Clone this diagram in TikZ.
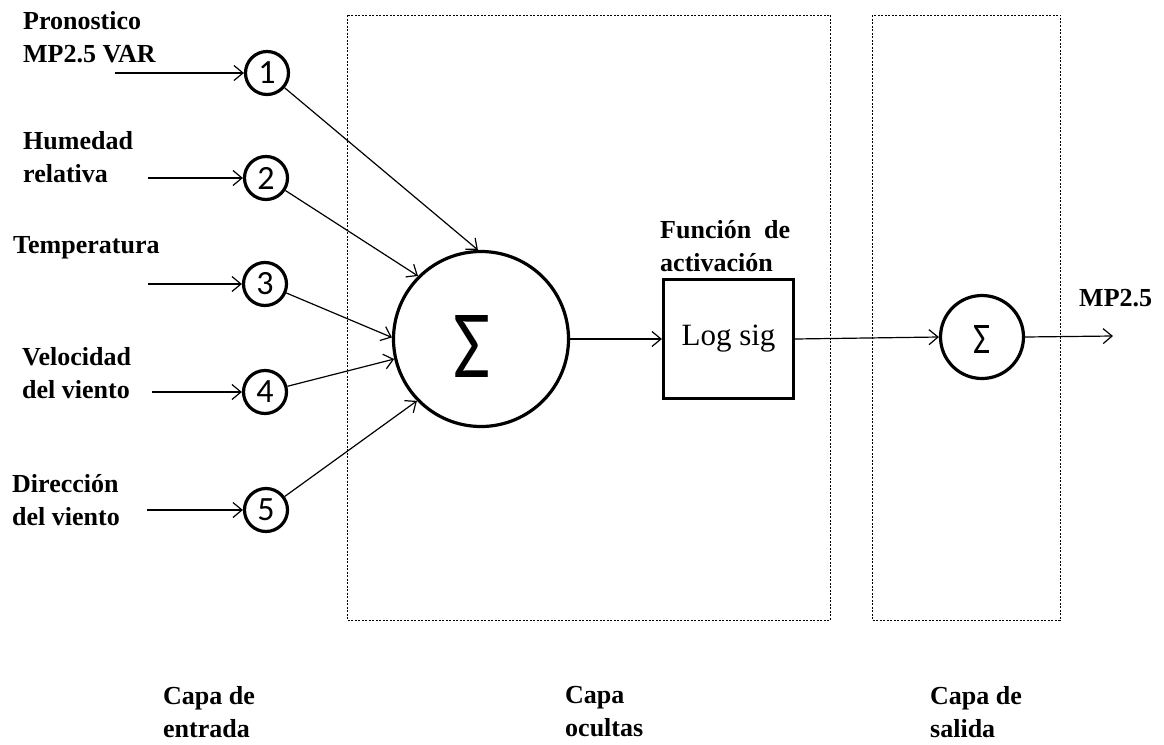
\documentclass[tikz,border=0pt]{standalone}
\usepackage{fontspec}
\setmainfont{Liberation Serif}
\newfontfamily\numfont{Carlito}
\usetikzlibrary{arrows.meta}

\begin{document}
\begin{tikzpicture}[x=1pt,y=-1pt,
  lbl/.style={font=\fontsize{26}{33}\selectfont\bfseries, align=left, anchor=west, inner sep=0pt},
  inp/.style={circle, draw, line width=3.2pt, minimum size=43pt, inner sep=0pt,
              font=\numfont\fontsize{34}{34}\selectfont},
  sumnode/.style={circle, draw, line width=3.2pt, inner sep=0pt},
  conn/.style={line width=1.2pt, -{Straight Barb[length=9pt,width=15pt]}},
  layer/.style={draw, line width=0.9pt, dash pattern=on 2pt off 1.5pt}
]
\useasboundingbox (0,0) rectangle (1164,744);

% layer frames
\draw[layer] (347,15) rectangle (830,620);
\draw[layer] (872,15) rectangle (1060,620);

% input neurons
\node[inp] (n1) at (267,73)  {1};
\node[inp] (n2) at (266,178) {2};
\node[inp] (n3) at (265,284) {3};
\node[inp] (n4) at (265,392) {4};
\node[inp] (n5) at (266,510) {5};

% input sources
\coordinate (s1) at (115,73);
\coordinate (s2) at (148,178);
\coordinate (s3) at (148,284);
\coordinate (s4) at (152,392);
\coordinate (s5) at (147,510);

% input labels
\node[lbl] (l1) at (23,37)  {Pronostico\\MP2.5 VAR};
\node[lbl] (l2) at (23,157) {Humedad\\relativa};
\node[lbl] (l3) at (13,248) {Temperatura};
\node[lbl] (l4) at (22,373) {Velocidad\\del viento};
\node[lbl] (l5) at (12,500) {Dirección\\del viento};

% summation neuron
\node[sumnode, minimum size=175pt] (S) at (481,339) {};
\node[inner sep=0pt] (Ssym) at (472,346)
  {\resizebox{37pt}{62pt}{\numfont\fontsize{90}{90}\selectfont Σ}};

% activation function
\node[draw, line width=3.2pt, minimum width=130pt, minimum height=119pt, inner sep=0pt,
      font=\fontsize{31}{31}\selectfont] (F) at (728.5,339) {Log sig};
\node[lbl] (fl) at (660,246) {Función \ de\\activación};

% output neuron
\node[sumnode, minimum size=83pt] (O) at (982,337) {};
\node[inner sep=0pt] (Osym) at (982,339)
  {\resizebox{17pt}{28pt}{\numfont\fontsize{60}{60}\selectfont Σ}};
\coordinate (out) at (1113,336);
\node[lbl] (ol) at (1079,298) {MP2.5};

% layer captions
\node[lbl] (c1) at (163,712) {Capa de\\entrada};
\node[lbl] (c2) at (565,712) {Capa\\ocultas};
\node[lbl] (c3) at (930,712) {Capa de\\salida};

% connections
\foreach \i in {1,...,5} \draw[conn] (s\i) -- (n\i);
\draw[conn] (n1) -- (S.92);
\draw[conn] (n2) -- (S.135);
\draw[conn] (n3) -- (S.179);
\draw[conn] (n4) -- (S.193);
\draw[conn] (n5) -- (S.224);
\draw[conn] (S) -- (F);
\draw[conn] (F.east) -- (O.west);
\draw[conn] (O.east) -- (out);
\end{tikzpicture}
\end{document}
